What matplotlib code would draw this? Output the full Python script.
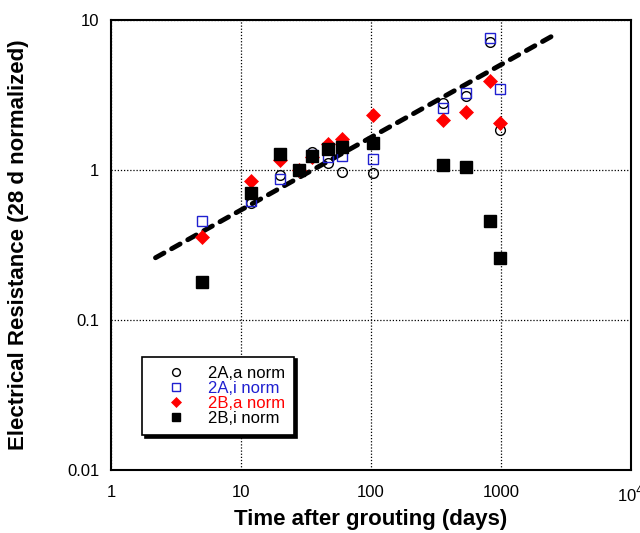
# -*- coding: utf-8 -*-
# resistance_norm.py
# electrical resistance of grouted specimens, normalized to the 28 d value

import numpy as np
import matplotlib
matplotlib.use("Agg")
import matplotlib.pyplot as plt

plt.rcParams['font.family'] = ['Liberation Sans', 'DejaVu Sans']

# age of specimens (days)
t_days  = [5, 12, 20, 28, 35, 47, 60, 104, 356, 538, 823, 982]

# normalized resistance, one list per series
r_2A_a  = [None, 0.60, 0.92, 1.0, 1.32, 1.11, 0.97, 0.96, 2.81, 3.11, 7.17, 1.85]
r_2A_i  = [0.46, 0.62, 0.87, 1.0, 1.26, 1.23, 1.24, 1.18, 2.60, 3.28, 7.55, 3.45]
r_2B_a  = [0.36, 0.85, 1.17, 1.0, 1.23, 1.49, 1.60, 2.33, 2.15, 2.45, 3.92, 2.05]
r_2B_i  = [0.18, 0.70, 1.28, 1.0, 1.24, 1.37, 1.43, 1.51, 1.08, 1.05, 0.46, 0.26]

# power-law trend (end points)
trend_t = [2.2, 2600]
trend_r = [0.26, 8.0]

def pts(t, r):
    t = np.asarray(t, dtype=float)
    r = np.asarray([np.nan if v is None else v for v in r], dtype=float)
    return t, r

fig = plt.figure(figsize=(6.4, 5.33), dpi=100)
ax = fig.add_axes([0.1734, 0.1182, 0.8126, 0.8443])

ax.plot(trend_t, trend_r, color='black', lw=3.5, ls=(0, (2.0, 1.8)),
        dash_capstyle='round', zorder=2)

ax.plot(*pts(t_days, r_2A_a), 'o', ms=7, mfc='none', mec='black', mew=1.0,
        ls='none', label='2A,a norm', zorder=3)
ax.plot(*pts(t_days, r_2A_i), 's', ms=7.5, mfc='none', mec='#2020d0', mew=1.0,
        ls='none', label='2A,i norm', zorder=3)
ax.plot(*pts(t_days, r_2B_a), 'D', ms=7, mfc='#ff0000', mec='#ff0000', mew=0.5,
        ls='none', label='2B,a norm', zorder=4)
ax.plot(*pts(t_days, r_2B_i), 's', ms=8, mfc='black', mec='black',
        ls='none', label='2B,i norm', zorder=5)

ax.set_xscale('log')
ax.set_yscale('log')
ax.set_xlim(1, 1e4)
ax.set_ylim(0.01, 10)
ax.set_xticks([1, 10, 100, 1000, 1e4])
ax.set_xticklabels(['1', '10', '100', '1000', r'10$^4$'])
ax.set_yticks([0.01, 0.1, 1, 10])
ax.set_yticklabels(['0.01', '0.1', '1', '10'])
ax.minorticks_off()
ax.tick_params(length=0, labelsize=12)
ax.tick_params(axis='x', pad=11)
ax.tick_params(axis='y', pad=8.5)
ax.grid(True, which='major', color='black', ls=(0, (1, 1.5)), lw=0.9)
for s in ax.spines.values():
    s.set_linewidth(1.5)

ax.set_xlabel('Time after grouting (days)', fontsize=16, fontweight='bold')
ax.set_ylabel('Electrical Resistance (28 d normalized)', fontsize=16, fontweight='bold')
ax.xaxis.set_label_coords(0.5, -0.086)
ax.yaxis.set_label_coords(-0.157, 0.5)

leg = ax.legend(loc='lower left', bbox_to_anchor=(0.0596, 0.078), fontsize=12,
                frameon=True, fancybox=False, shadow={'color': 'black', 'alpha': 1},
                handletextpad=0.4, borderpad=0.55, borderaxespad=0, labelspacing=0.0,
                handlelength=3.0, markerscale=0.8)
leg.get_frame().set_edgecolor('black')
leg.get_frame().set_linewidth(1.2)
for txt, c in zip(leg.get_texts(), ['black', '#2020d0', '#ff0000', 'black']):
    txt.set_color(c)

fig.savefig('out.png', dpi=100)
